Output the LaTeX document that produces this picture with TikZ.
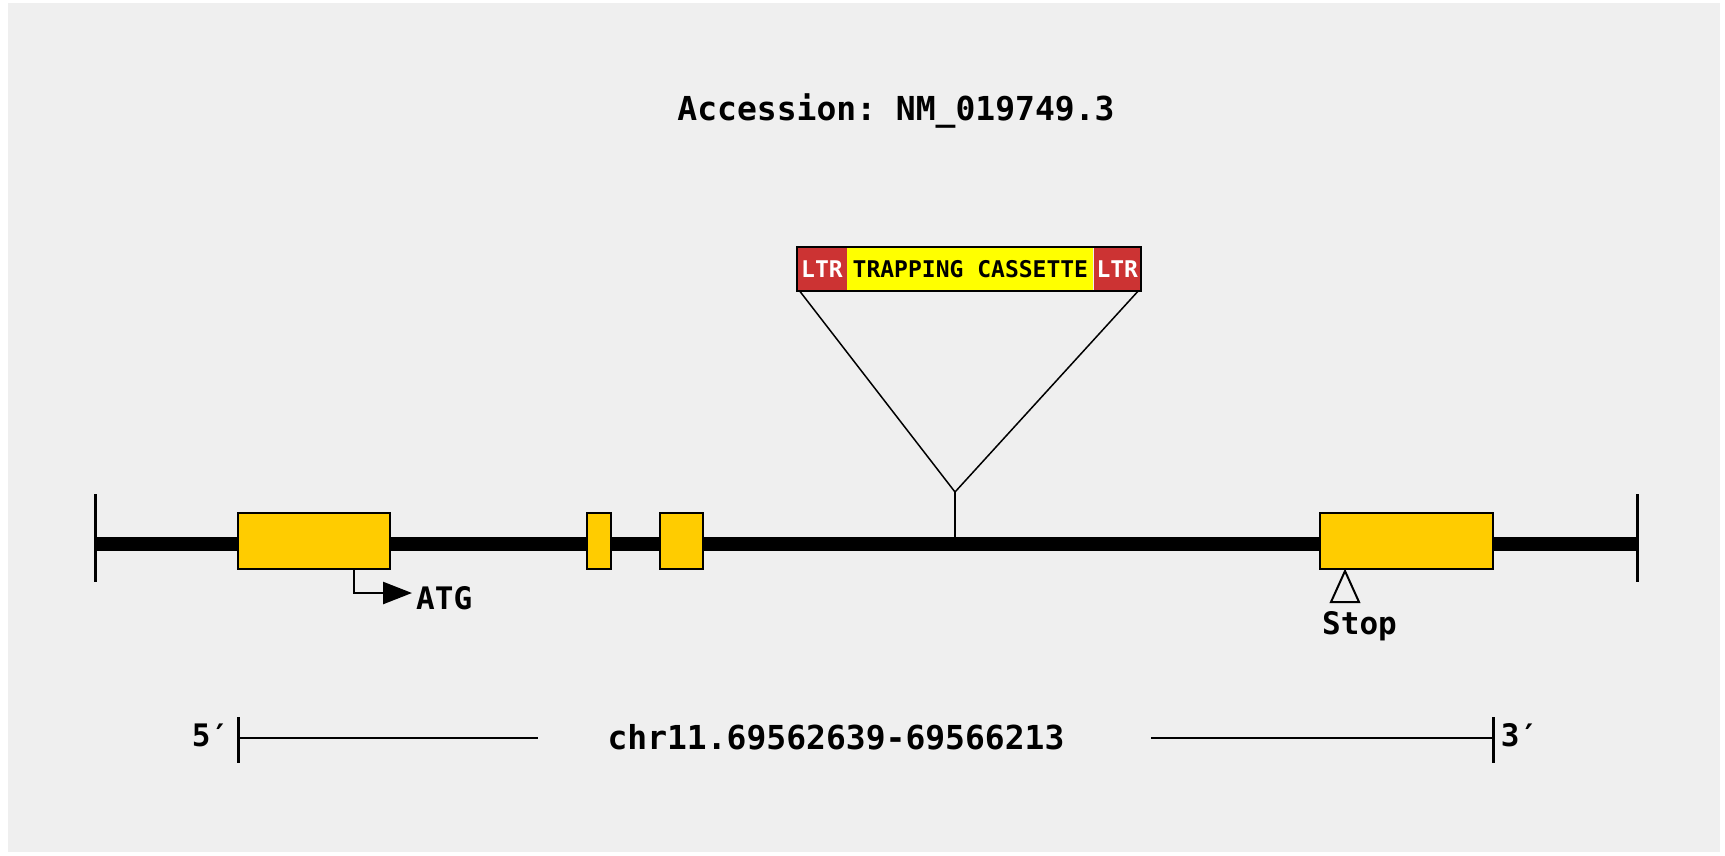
\documentclass[tikz,border=0pt]{standalone}
\usepackage{fontspec}
\setmonofont{DejaVu Sans Mono}
\usetikzlibrary{positioning,arrows.meta}
\definecolor{bggray}{HTML}{EFEFEF}
\definecolor{exonfill}{HTML}{FFCC00}
\definecolor{ltrred}{HTML}{CC3333}
\definecolor{cassyellow}{HTML}{FFFF00}
\tikzset{
  exon/.style={draw,fill=exonfill,line width=2.5pt,inner sep=0pt,minimum height=56pt},
  bigtxt/.style={font=\fontsize{31}{31}\selectfont\ttfamily\bfseries,inner sep=0pt},
  headtxt/.style={font=\fontsize{33}{33}\selectfont\ttfamily\bfseries,inner sep=0pt},
  cassbox/.style={inner sep=0pt,minimum height=44pt,font=\fontsize{23}{23}\selectfont\ttfamily\bfseries},
  thin/.style={line width=2pt},
  tick/.style={line width=3pt}
}
\begin{document}
\begin{tikzpicture}[x=1pt,y=-1pt]
\useasboundingbox(0,0)rectangle(1725,855);
\fill[bggray](8,3)rectangle(1720,852);
%title
\node[headtxt](title)at(896,111){Accession: NM\_019749.3};
%genomic line
\coordinate(g5)at(95,544);
\coordinate(g3)at(1637,544);
\draw[line width=14pt](g5)--(g3);
\draw[tick](95,494)--(95,582);
\draw[tick](1637,494)--(1637,582);
%exons
\node[exon,minimum width=152pt](ex1)at(314,541){};
\node[exon,minimum width=24pt](ex2)at(599,541){};
\node[exon,minimum width=43pt](ex3)at(681.5,541){};
\node[exon,minimum width=173pt](ex4)at(1406.5,541){};
%cassette
\node[cassbox,fill=ltrred,text=white,minimum width=50pt](ltrL)at(822,269){LTR};
\node[cassbox,fill=cassyellow,minimum width=246pt,right=0pt of ltrL](trap){TRAPPING CASSETTE};
\node[cassbox,fill=ltrred,text=white,minimum width=47pt,right=0pt of trap](ltrR){LTR};
\draw[line width=2.5pt](ltrL.north west)rectangle(ltrR.south east);
%insertion site
\coordinate(ins)at(955,544);
\coordinate(apex)at(955,492);
\draw[thin](ins)--(apex);
\draw[line width=1.5pt](ltrL.south west)++(3,0)--(apex)--([xshift=-3pt]ltrR.south east);
%start codon
\coordinate(atgtip)at(412,593);
\draw[line width=2.5pt,-{Triangle[length=29pt,width=22pt]}]([xshift=40pt]ex1.south)|-(atgtip);
\node[bigtxt,anchor=west](atg)at(416,598){ATG};
%stop codon
\coordinate(stoptip)at(1345,571);
\draw[thin,fill=bggray](stoptip)--++(-14,31)--++(28,0)--cycle;
\node[bigtxt,anchor=north](stop)at(1359.5,611){Stop};
%scale bar
\coordinate(s5)at(238,738);
\coordinate(s3)at(1493,738);
\draw[tick](238,717)--(238,763);
\draw[tick](1493,717)--(1493,763);
\node[headtxt](chr)at(836,737){chr11.69562639-69566213};
\draw[thin](s5)--(538,738);
\draw[thin](1151,738)--(s3);
\node[bigtxt](p5)at(210.5,735){5′};
\node[bigtxt](p3)at(1519.5,735){3′};
\end{tikzpicture}
\end{document}
